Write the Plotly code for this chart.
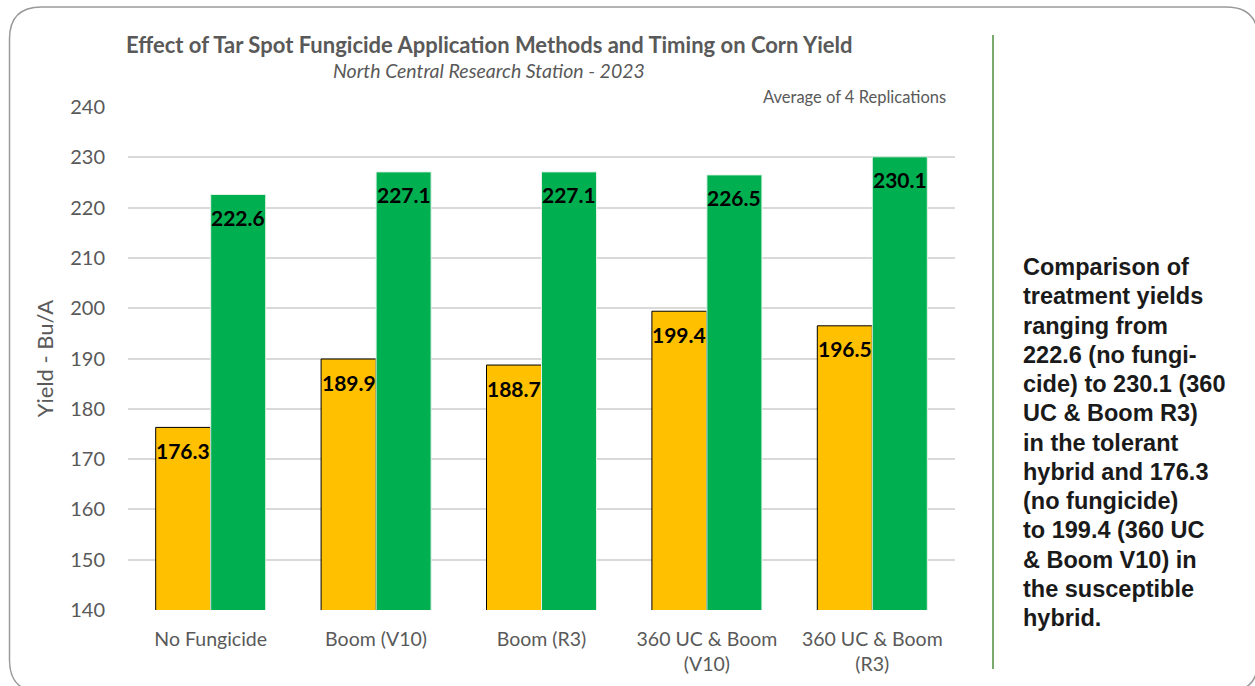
import plotly.graph_objects as go

# Treatments and yields (Bu/A)
categories = ["No Fungicide", "Boom (V10)", "Boom (R3)", "360 UC & Boom<br>(V10)", "360 UC & Boom<br>(R3)"]
susceptible = [176.3, 189.9, 188.7, 199.4, 196.5]
tolerant = [222.6, 227.1, 227.1, 226.5, 230.1]
y_ticks = [140, 150, 160, 170, 180, 190, 200, 210, 220, 230, 240]

side_note = [
    "Comparison of",
    "treatment yields",
    "ranging from",
    "222.6 (no fungi-",
    "cide) to 230.1 (360",
    "UC & Boom R3)",
    "in the tolerant",
    "hybrid and 176.3",
    "(no fungicide)",
    "to 199.4 (360 UC",
    "& Boom V10) in",
    "the susceptible",
    "hybrid.",
]

W, H = 1255, 686
L, R, T, B = 128, 300, 107, 76
PW, PH = W - L - R, H - T - B

def px(x):
    return (x - L) / PW

def py(y):
    return (H - B - y) / PH

GRAY = "#595959"
FONT = "Lato"

fig = go.Figure()
fig.add_trace(go.Bar(
    x=categories, y=susceptible, name="Susceptible",
    marker=dict(color="#FFC000", line=dict(color="#000000", width=1)),
))
fig.add_trace(go.Bar(
    x=categories, y=tolerant, name="Tolerant",
    marker=dict(color="#00B050", line=dict(color="#dff2e6", width=1)),
))

# value labels just inside the top of each bar
for vals, shift in ((susceptible, -27.5), (tolerant, 27.5)):
    for c, v in zip(categories, vals):
        fig.add_annotation(
            x=c, y=v, xref="x", yref="y", text=f"{v:.1f}", showarrow=False,
            xshift=shift, yshift=-23, yanchor="middle",
            font=dict(family=FONT, size=21, color="#000000", weight="bold"),
        )

# titles
fig.add_annotation(
    x=px(489), y=py(44), xref="paper", yref="paper", showarrow=False,
    text="<b>Effect of Tar Spot Fungicide Application Methods and Timing on Corn Yield</b>",
    font=dict(family=FONT, size=22, color=GRAY), xanchor="center", yanchor="middle",
)
fig.add_annotation(
    x=px(489), y=py(71), xref="paper", yref="paper", showarrow=False,
    text="<i>North Central Research Station - 2023</i>",
    font=dict(family=FONT, size=19.5, color=GRAY), xanchor="center", yanchor="middle",
)
fig.add_annotation(
    x=px(948), y=py(97), xref="paper", yref="paper", showarrow=False,
    text="Average of 4 Replications",
    font=dict(family=FONT, size=16.5, color=GRAY), xanchor="right", yanchor="middle",
)

# side note, one annotation per line
for i, line in enumerate(side_note):
    fig.add_annotation(
        x=px(1021), y=py(267 + i * 29.25), xref="paper", yref="paper", showarrow=False,
        text=f"<b>{line}</b>",
        font=dict(family="Liberation Sans", size=23.5, color="#1a1a1a"),
        xanchor="left", yanchor="middle",
    )

# divider line and rounded frame
fig.add_shape(type="line", xref="paper", yref="paper",
              x0=px(993), x1=px(993), y0=py(35), y1=py(669),
              line=dict(color="#7aab6a", width=2))

x0, x1, y0, y1, r = 9.5, 1258, 7, 692, 32
path = (
    f"M {px(x0)},{py(y0 + r)} Q {px(x0)},{py(y0)} {px(x0 + r)},{py(y0)} "
    f"L {px(x1 - r)},{py(y0)} Q {px(x1)},{py(y0)} {px(x1)},{py(y0 + r)} "
    f"L {px(x1)},{py(y1 - r)} Q {px(x1)},{py(y1)} {px(x1 - r)},{py(y1)} "
    f"L {px(x0 + r)},{py(y1)} Q {px(x0)},{py(y1)} {px(x0)},{py(y1 - r)} Z"
)
fig.add_shape(type="path", path=path, xref="paper", yref="paper",
              line=dict(color="#9a9a9a", width=1.5), layer="below")

fig.update_layout(
    width=W, height=H,
    margin=dict(l=L, r=R, t=T, b=B),
    paper_bgcolor="white", plot_bgcolor="white",
    barmode="group", bargap=0.335, bargroupgap=0,
    showlegend=False,
    font=dict(family=FONT, color=GRAY),
    xaxis=dict(
        showgrid=False, showline=False, ticks="",
        tickfont=dict(family=FONT, size=19.5, color=GRAY),
        ticklabelstandoff=15,
    ),
    yaxis=dict(
        range=[140, 240], tickvals=y_ticks,
        showgrid=True, gridcolor="#d9d9d9", gridwidth=1.5,
        zeroline=False, showline=False, ticks="",
        tickfont=dict(family=FONT, size=20, color=GRAY),
        ticklabelstandoff=22,
        title=dict(text="Yield - Bu/A", font=dict(family=FONT, size=22, color=GRAY), standoff=10),
    ),
)

fig.write_html("out.html")
